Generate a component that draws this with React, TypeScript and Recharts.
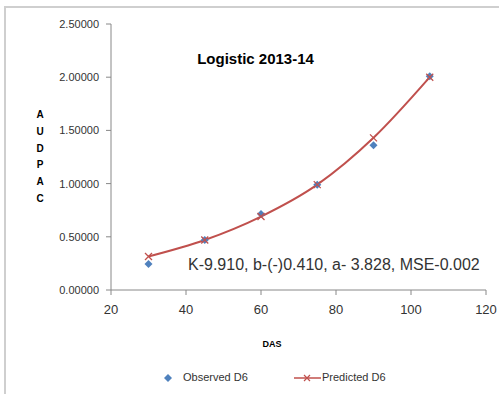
import { ComposedChart, Line, Scatter, XAxis, YAxis, Legend } from "recharts";

// DAS (days after sowing)
const das = [30, 45, 60, 75, 90, 105];
const observedD6 = [0.245, 0.47, 0.715, 0.99, 1.36, 2.01];
const predictedD6 = [0.315, 0.47, 0.69, 0.99, 1.43, 2.0];

const xTicks = [20, 40, 60, 80, 100, 120];
const yTicks = [0, 0.5, 1, 1.5, 2, 2.5];
const axisLetters = ["A", "U", "D", "P", "A", "C"];

const data = das.map((d, i) => ({ das: d, observed: observedD6[i], predicted: predictedD6[i] }));

const W = 499;
const H = 394;
const FONT = "'Liberation Sans', Arial, sans-serif";

function Diamond(props: any) {
  const { cx, cy } = props;
  if (cx == null || cy == null) return null;
  return <path d={`M${cx},${cy - 4}L${cx + 4},${cy}L${cx},${cy + 4}L${cx - 4},${cy}Z`} fill="#4f81bd" />;
}

function Cross(props: any) {
  const { cx, cy } = props;
  if (cx == null || cy == null) return null;
  return (
    <path
      d={`M${cx - 3.5},${cy - 3.5}L${cx + 3.5},${cy + 3.5}M${cx - 3.5},${cy + 3.5}L${cx + 3.5},${cy - 3.5}`}
      stroke="#c0504d"
      strokeWidth={1.3}
      fill="none"
    />
  );
}

function LegendBox() {
  return (
    <div style={{ position: "relative", height: 20, fontFamily: FONT, fontSize: 11, color: "#333" }}>
      <svg width={10} height={10} style={{ position: "absolute", left: 163, top: 4 }}>
        <path d="M5,1L9,5L5,9L1,5Z" fill="#4f81bd" />
      </svg>
      <span style={{ position: "absolute", left: 183, top: 2 }}>Observed D6</span>
      <svg width={28} height={10} style={{ position: "absolute", left: 294, top: 4 }}>
        <line x1={0} y1={5} x2={27} y2={5} stroke="#c0504d" strokeWidth={1.5} />
        <path d="M10,2L16,8M10,8L16,2" stroke="#c0504d" strokeWidth={1.2} />
      </svg>
      <span style={{ position: "absolute", left: 322, top: 2 }}>Predicted D6</span>
    </div>
  );
}

export default function App() {
  return (
    <div style={{ position: "absolute", left: 0, top: 0, width: W, height: H, background: "#fff", overflow: "hidden" }}>
      {/* chart frame */}
      <div style={{ position: "absolute", left: 4, top: 6, width: W, height: H, borderLeft: "2px solid #cfcfcf", borderTop: "2px solid #cfcfcf" }} />

      <ComposedChart width={W} height={H} data={data} margin={{ top: 24, right: 13, bottom: 0, left: 0 }}>
        <XAxis
          dataKey="das"
          type="number"
          domain={[20, 120]}
          ticks={xTicks}
          height={84}
          tickSize={5}
          tickMargin={10}
          stroke="#888"
          tick={{ fill: "#333", fontSize: 13, fontFamily: FONT }}
        />
        <YAxis
          type="number"
          domain={[0, 2.5]}
          ticks={yTicks}
          width={111}
          tickSize={5}
          tickMargin={7}
          stroke="#888"
          tickFormatter={(v: number) => v.toFixed(5)}
          tick={{ fill: "#333", fontSize: 11, fontFamily: FONT }}
        />
        <Scatter dataKey="observed" name="Observed D6" fill="#4f81bd" shape={<Diamond />} isAnimationActive={false} />
        <Line
          dataKey="predicted"
          name="Predicted D6"
          type="monotone"
          stroke="#c0504d"
          strokeWidth={2}
          dot={<Cross />}
          activeDot={false}
          isAnimationActive={false}
        />
        <Legend content={<LegendBox />} wrapperStyle={{ left: 0, top: 369, width: W }} />
      </ComposedChart>

      <div style={{ position: "absolute", left: 0, width: W, top: 50, textAlign: "center", paddingLeft: 12, boxSizing: "border-box", fontFamily: FONT, fontWeight: "bold", fontSize: 15, color: "#000" }}>
        Logistic 2013-14
      </div>

      <div style={{ position: "absolute", left: 188, top: 256, fontFamily: FONT, fontSize: 16, color: "#333", whiteSpace: "nowrap" }}>
        K-9.910, b-(-)0.410, a- 3.828, MSE-0.002
      </div>

      <div style={{ position: "absolute", left: 34, top: 107, width: 12, textAlign: "center", fontFamily: FONT, fontWeight: "bold", fontSize: 10, lineHeight: "16.8px", color: "#000" }}>
        {axisLetters.map((c, i) => (
          <div key={i}>{c}</div>
        ))}
      </div>

      <div style={{ position: "absolute", left: 252, width: 40, top: 339, textAlign: "center", fontFamily: FONT, fontWeight: "bold", fontSize: 9, color: "#000" }}>
        DAS
      </div>
    </div>
  );
}
